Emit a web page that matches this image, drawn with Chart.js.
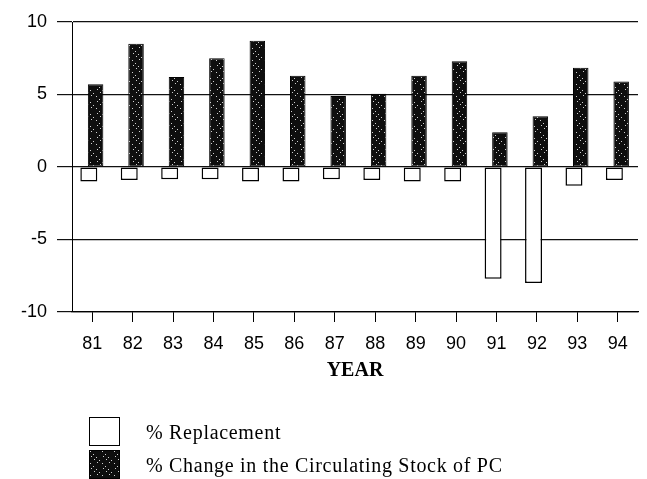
<!DOCTYPE html>
<html>
<head>
<meta charset="utf-8">
<script src="https://cdn.jsdelivr.net/npm/chart.js@4.4.1/dist/chart.umd.min.js"></script>
<style>
  html, body { margin: 0; padding: 0; background: #fff; }
  #wrap { position: relative; width: 647px; height: 479px; overflow: hidden; }
  #chart { position: absolute; left: 0; top: 0; }
  .leg { position: absolute; left: 89px; font-family: "Liberation Serif", serif; font-size: 20px; letter-spacing: 0.7px; color: #000; }
  .leg .box { position: absolute; left: 0; width: 31px; height: 29px; border: 1.5px solid #000; box-sizing: border-box; }
  .leg .txt { position: absolute; left: 57px; white-space: nowrap; line-height: 20px; }
</style>
</head>
<body>
<div id="wrap">
  <canvas id="chart" width="647" height="479"></canvas>
  <div class="leg" style="top:417px"><div class="box" style="background:#fff"></div><div class="txt" style="top:5px">% Replacement</div></div>
  <div class="leg" style="top:450px"><div class="box" id="darkBox"></div><div class="txt" style="top:5px">% Change in the Circulating Stock of PC</div></div>
</div>
<script>
// años (eje x)
const years = ['81', '82', '83', '84', '85', '86', '87', '88', '89', '90', '91', '92', '93', '94'];
// % Replacement (barras blancas, negativas)
const replacement = [-1.0, -0.9, -0.85, -0.85, -1.0, -1.0, -0.85, -0.9, -1.0, -1.0, -7.7, -8.0, -1.3, -0.9];
// % Change in the Circulating Stock of PC (barras oscuras)
const stockChange = [5.7, 8.5, 6.2, 7.5, 8.7, 6.3, 4.9, 5.05, 6.3, 7.3, 2.4, 3.5, 6.85, 5.9];
const yTicks = [-10, -5, 0, 5, 10];

// textura punteada de las barras oscuras (determinista)
function makeSpeckle() {
    const c = document.createElement('canvas');
    c.width = 12; c.height = 12;
    const g = c.getContext('2d');
    g.fillStyle = '#0e0e0e';
    g.fillRect(0, 0, 12, 12);
    g.fillStyle = '#d0d0d0';
    for (let y = 0; y < 12; y++) {
        for (let x = 0; x < 12; x++) {
            if ((x * 5 + y * 7 + x * y) % 9 === 0 && (x + y) % 2 === 0) g.fillRect(x, y, 1, 1);
        }
    }
    return c;
}
const speck = makeSpeckle();
const ctx = document.getElementById('chart').getContext('2d');
const darkFill = ctx.createPattern(speck, 'repeat');
document.getElementById('darkBox').style.background = 'url(' + speck.toDataURL() + ')';

new Chart(ctx, {
    type: 'bar',
    data: {
        labels: years,
        datasets: [{
            label: '% Replacement',
            data: replacement,
            backgroundColor: '#fff',
            borderColor: '#000',
            borderWidth: 1.5,
            borderSkipped: false,
            barPercentage: 2.5
        }, {
            label: '% Change in the Circulating Stock of PC',
            data: stockChange,
            backgroundColor: darkFill,
            borderColor: '#000',
            borderWidth: 1,
            borderSkipped: false,
            barPercentage: 2.28
        }]
    },
    options: {
        responsive: false,
        animation: false,
        categoryPercentage: 0.336,
        layout: { padding: { top: 22, right: 9, bottom: 96, left: 6 } },
        plugins: {
            legend: { display: false },
            tooltip: { enabled: false }
        },
        scales: {
            x: {
                grid: { drawOnChartArea: false, drawTicks: true, tickLength: 10, offset: false, color: '#000' },
                border: { display: true, color: '#000', width: 1.2 },
                ticks: { color: '#000', padding: 11, font: { family: 'Liberation Sans', size: 18 } },
                title: {
                    display: true, text: 'YEAR', color: '#000', padding: 0,
                    font: { family: 'Liberation Serif', size: 20, weight: 'bold' }
                },
                afterFit: s => { s.height = 71; }
            },
            y: {
                min: -10, max: 10,
                afterBuildTicks: s => { s.ticks = yTicks.map(v => ({ value: v })); },
                grid: { color: '#111', lineWidth: 1.2, tickLength: 15 },
                border: { display: true, color: '#000', width: 1 },
                ticks: { color: '#000', padding: 10, font: { family: 'Liberation Sans', size: 18 } },
                afterFit: s => { s.width = 66; }
            }
        }
    }
});
</script>
</body>
</html>
